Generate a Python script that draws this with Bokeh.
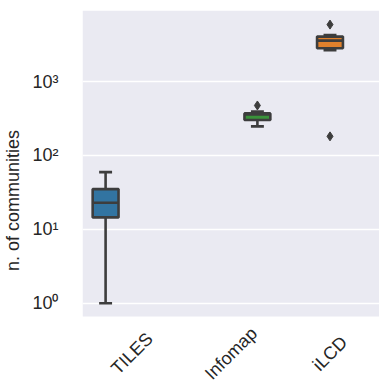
from bokeh.plotting import figure
from bokeh.models import FactorRange, Range1d, FixedTicker, Label, BoxAnnotation
from bokeh.embed import file_html
from bokeh.resources import INLINE

# ---- data ----
methods = ["TILES", "Infomap", "iLCD"]
hue_order = ["TILES", "iLCD", "Infomap"]
hue_colors = ["#3274a1", "#e1812c", "#3a923a"]
whisker_low = [1.0, 247, 2660]
q1 = [14.5, 302, 2820]
median = [22.9, 358, 3580]
q3 = [35, 370, 4050]
whisker_high = [59.5, 393, 4250]
outlier_method = ["Infomap", "iLCD", "iLCD"]
outlier_value = [474, 5890, 181]
y_ticks = [1, 10, 100, 1000]
y_tick_labels = ["10\u2070", "10\u00b9", "10\u00b2", "10\u00b3"]
y_label = "n. of communities"
y_lo, y_hi = 0.66, 9140          # visible value range of the axes area

FONT = "Liberation Sans"
TEXT = "#262626"
EDGE = "#3d3d3d"
LW = 2.6

n_hue = len(hue_order)
slot = 0.8 / n_hue
box_w = slot * 0.98

def offset(m):
    return (hue_order.index(m) - (n_hue - 1) / 2) * slot

# the frame reaches the bottom of the canvas so that the rotated category
# labels (drawn as Labels) are not clipped; the grey axes area is a box.
p = figure(width=379, height=390,
           x_range=FactorRange(factors=methods, range_padding=0),
           y_range=Range1d(0.0659, y_hi), y_axis_type="log",
           output_backend="svg", toolbar_location=None,
           min_border_left=78, min_border_right=0, min_border_top=10, min_border_bottom=0)

p.background_fill_color = "white"
p.border_fill_color = "white"
p.outline_line_color = None
p.add_layout(BoxAnnotation(bottom=y_lo, fill_color="#eaeaf2", fill_alpha=1,
                           line_color=None, level="image"))
p.xgrid.grid_line_color = None
p.ygrid.grid_line_color = "white"
p.ygrid.grid_line_width = 1.5
p.ygrid.level = "underlay"

xc = [(m, offset(m)) for m in methods]
xl = [(m, offset(m) - box_w / 4) for m in methods]
xr = [(m, offset(m) + box_w / 4) for m in methods]
xbl = [(m, offset(m) - box_w / 2) for m in methods]
xbr = [(m, offset(m) + box_w / 2) for m in methods]
fills = [hue_colors[hue_order.index(m)] for m in methods]

# whiskers
p.segment(x0=xc, x1=xc, y0=whisker_low, y1=q1, line_color=EDGE, line_width=LW)
p.segment(x0=xc, x1=xc, y0=q3, y1=whisker_high, line_color=EDGE, line_width=LW)
# caps
p.segment(x0=xl, x1=xr, y0=whisker_low, y1=whisker_low, line_color=EDGE, line_width=LW)
p.segment(x0=xl, x1=xr, y0=whisker_high, y1=whisker_high, line_color=EDGE, line_width=LW)
# boxes
p.vbar(x=xc, width=box_w, bottom=q1, top=q3, fill_color=fills,
       line_color=EDGE, line_width=LW)
# medians
p.segment(x0=xbl, x1=xbr, y0=median, y1=median, line_color=EDGE, line_width=LW)
# outliers
xo = [(m, offset(m)) for m in outlier_method]
p.scatter(x=xo, y=outlier_value, marker="diamond", size=9,
          fill_color=EDGE, line_color=EDGE)

# y axis
p.yaxis.bounds = (y_lo, y_hi)
p.yaxis.ticker = FixedTicker(ticks=y_ticks, minor_ticks=[])
p.yaxis.major_label_overrides = dict(zip(y_ticks, y_tick_labels))
p.yaxis.axis_line_color = None
p.yaxis.major_tick_line_color = None
p.yaxis.minor_tick_line_color = None
p.yaxis.major_label_standoff = 18
p.yaxis.major_label_text_font = FONT
p.yaxis.major_label_text_font_size = "18px"
p.yaxis.major_label_text_color = TEXT
p.yaxis.axis_label = y_label
p.yaxis.axis_label_text_font = FONT
p.yaxis.axis_label_text_font_size = "18px"
p.yaxis.axis_label_text_font_style = "normal"
p.yaxis.axis_label_text_color = TEXT
p.yaxis.axis_label_standoff = 6

# x axis: rotated, centred category labels at each factor's position
p.xaxis.visible = False
for i, m in enumerate(methods):
    p.add_layout(Label(x=i + 0.5, y=37, x_units="data", y_units="screen", text=m,
                       angle=45, angle_units="deg",
                       text_align="center", text_baseline="middle",
                       text_font=FONT, text_font_size="18px", text_color=TEXT))

open("out.html", "w").write(file_html(p, INLINE))
